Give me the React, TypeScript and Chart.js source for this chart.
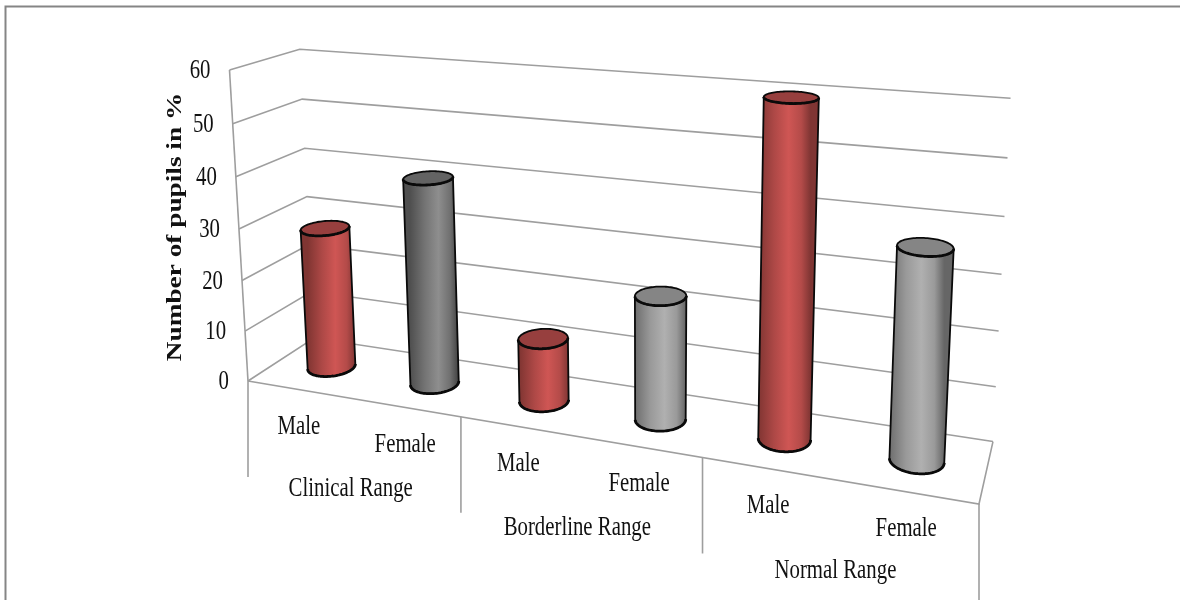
import React, { useEffect, useRef } from "react";
import { Chart, BarController, BarElement, CategoryScale, LinearScale } from "chart.js";

// Share of pupils (%) per screening range, split by gender.
const rangeLabels = ["Clinical Range", "Borderline Range", "Normal Range"];
const seriesNames = ["Male", "Female"];
const maleValues = [28, 12, 60];
const femaleValues = [40, 23, 37];
const axisTitle = "Number of pupils in %";

const W = 1180;
const H = 600;
const FONT = '"Liberation Serif", "Times New Roman", serif';
const TEXT_STRETCH = 1.3;
const GRID = "#9e9e9e";

// Shading ramps for the cylinders: side gradient stops and cap colour.
type Ramp = { stops: string[]; cap: string };
const RED: Ramp = { stops: ["#803532", "#ad4846", "#cf5654", "#b44b49", "#7f3533"], cap: "#973f3e" };
const DARK: Ramp = { stops: ["#505050", "#747474", "#8e8e8e", "#707070", "#404040"], cap: "#636363" };
const LIGHT: Ramp = { stops: ["#6e6e6e", "#999999", "#b0b0b0", "#9a9a9a", "#666666"], cap: "#858585" };
const ramps = [
  [RED, RED, RED],
  [DARK, LIGHT, LIGHT],
];

// Perspective box of the plot: u runs along the categories, d into the depth, v up the value axis.
const O = { x: 248, y: 381 };
const PU = { x: 979, y: 504 };
const PD = { x: 314, y: 338 };
const PV = { x: 229.5, y: 70 };
const WU = -0.178;
const WD = 0.0803;
const WV = -0.044;

function project(u: number, d: number, v: number) {
  const w = 1 + WU * u + WD * d + WV * v;
  const f = (k: "x" | "y") =>
    (O[k] +
      u * ((1 + WU) * PU[k] - O[k]) +
      d * ((1 + WD) * PD[k] - O[k]) +
      v * ((1 + WV) * PV[k] - O[k])) /
    w;
  return { x: f("x"), y: f("y") };
}

const RADIUS_U = 0.033;
const RADIUS_D = 0.21;
const DEPTH_MID = 0.5;

function ringPoints(u: number, v: number) {
  const pts: { x: number; y: number }[] = [];
  for (let i = 0; i < 96; i++) {
    const t = (i / 96) * Math.PI * 2;
    pts.push(project(u + RADIUS_U * Math.cos(t), DEPTH_MID + RADIUS_D * Math.sin(t), v));
  }
  return pts;
}

function tracePoly(ctx: CanvasRenderingContext2D, pts: { x: number; y: number }[], close = false) {
  ctx.beginPath();
  pts.forEach((p, i) => (i ? ctx.lineTo(p.x, p.y) : ctx.moveTo(p.x, p.y)));
  if (close) ctx.closePath();
}

function lowerArc(ring: { x: number; y: number }[]) {
  let l = 0;
  let r = 0;
  ring.forEach((p, i) => {
    if (p.x < ring[l].x) l = i;
    if (p.x > ring[r].x) r = i;
  });
  const walk = (a: number, b: number) => {
    const out = [ring[a]];
    for (let i = a; i !== b; i = (i + 1) % ring.length) out.push(ring[(i + 1) % ring.length]);
    return out;
  };
  const a1 = walk(r, l);
  const a2 = walk(l, r).reverse();
  const mean = (a: { y: number }[]) => a.reduce((s, p) => s + p.y, 0) / a.length;
  return { arc: mean(a1) > mean(a2) ? a1 : a2, left: ring[l], right: ring[r] };
}

// Bar controller that renders each bar element as a cylinder standing in the perspective box.
class CylinderController extends BarController {
  static id = "cylinder3d";
  static defaults = BarController.defaults;
  static overrides = BarController.overrides;

  draw() {
    const chart = this.chart;
    const ctx = chart.ctx;
    const xs = chart.scales.x;
    const ys = chart.scales.y;
    const dsIndex = this.index;
    this.getMeta().data.forEach((bar: any, i: number) => {
      const { x, y } = bar.getProps(["x", "y"], true);
      const u = (x - xs.left) / xs.width;
      const v = (ys.bottom - y) / ys.height;
      const ramp = ramps[dsIndex][i];
      const base = lowerArc(ringPoints(u, 0));
      const topRing = ringPoints(u, v);
      const top = lowerArc(topRing);

      const grad = ctx.createLinearGradient(base.left.x, 0, base.right.x, 0);
      [0, 0.3, 0.58, 0.82, 1].forEach((s, k) => grad.addColorStop(s, ramp.stops[k]));

      ctx.save();
      ctx.lineJoin = "round";
      tracePoly(ctx, [top.left, top.right, ...base.arc], true);
      ctx.fillStyle = grad;
      ctx.fill();
      ctx.strokeStyle = "#0a0a0a";
      ctx.lineWidth = 1.8;
      ctx.stroke();
      tracePoly(ctx, base.arc);
      ctx.lineWidth = 2.8;
      ctx.stroke();
      tracePoly(ctx, topRing, true);
      ctx.fillStyle = ramp.cap;
      ctx.fill();
      ctx.lineWidth = 1.8;
      ctx.stroke();
      tracePoly(ctx, top.arc);
      ctx.lineWidth = 2.8;
      ctx.stroke();
      ctx.restore();
    });
  }
}

function stretchedText(
  ctx: CanvasRenderingContext2D,
  text: string,
  x: number,
  y: number,
  align: CanvasTextAlign,
  font: string,
  rotate = false,
) {
  ctx.save();
  ctx.translate(x, y);
  ctx.scale(1, TEXT_STRETCH);
  if (rotate) ctx.rotate(-Math.PI / 2);
  ctx.font = font;
  ctx.textAlign = align;
  ctx.textBaseline = "middle";
  ctx.fillStyle = "#111111";
  ctx.fillText(text, 0, 0);
  ctx.restore();
}

function line(ctx: CanvasRenderingContext2D, pts: { x: number; y: number }[], color = GRID, width = 1.6) {
  tracePoly(ctx, pts);
  ctx.strokeStyle = color;
  ctx.lineWidth = width;
  ctx.stroke();
}

// Frame, walls, floor and every axis text of the perspective box.
const boxPlugin = {
  id: "perspectiveBox",
  beforeDatasetsDraw(chart: any) {
    const { ctx, scales } = chart;
    const ys = scales.y;
    ctx.save();
    line(ctx, [{ x: 5.5, y: H }, { x: 5.5, y: 6.5 }, { x: W, y: 6.5 }], "#858585", 2);
    ys.ticks.forEach((t: any) => {
      const v = (t.value - ys.min) / (ys.max - ys.min);
      line(ctx, [project(0, 0, v), project(0, 1, v), project(1, 1, v)]);
    });
    line(ctx, [project(0, 0, 0), project(0, 0, 1)]);
    line(ctx, [project(1, 1, 0), project(1, 0, 0), project(0, 0, 0)]);
    for (let i = 0; i <= rangeLabels.length; i++) {
      const p = project(i / rangeLabels.length, 0, 0);
      line(ctx, [p, { x: p.x, y: p.y + 96 }]);
    }
    ctx.restore();
  },
  afterDatasetsDraw(chart: any) {
    const { ctx, scales } = chart;
    const ys = scales.y;
    const serif = `20.8px ${FONT}`;
    ys.ticks.forEach((t: any) => {
      const p = project(0, 0, (t.value - ys.min) / (ys.max - ys.min));
      stretchedText(ctx, String(t.value), p.x - 19, p.y + 1, "right", serif);
    });
    const n = rangeLabels.length;
    rangeLabels.forEach((name, i) => {
      seriesNames.forEach((s, j) => {
        const p = project((i + (j + 0.5) / seriesNames.length) / n, 0, 0);
        stretchedText(ctx, s, p.x, p.y + 37, "center", serif);
      });
      const g = project((i + 0.5) / n, 0, 0);
      stretchedText(ctx, name, g.x - 0.5, g.y + 91, "center", serif);
    });
    stretchedText(ctx, axisTitle, 176, 227, "center", `bold 21px ${FONT}`, true);
  },
};

Chart.register(CylinderController, BarElement, CategoryScale, LinearScale);

export default function App() {
  const ref = useRef<HTMLCanvasElement>(null);

  useEffect(() => {
    const chart = new Chart(ref.current!, {
      type: "cylinder3d" as any,
      data: {
        labels: rangeLabels,
        datasets: [
          { label: seriesNames[0], data: maleValues },
          { label: seriesNames[1], data: femaleValues },
        ],
      },
      options: {
        animation: false,
        responsive: false,
        devicePixelRatio: 1,
        layout: { padding: 0 },
        datasets: { cylinder3d: { categoryPercentage: 1, barPercentage: 1 } },
        plugins: { legend: { display: false }, tooltip: { enabled: false } },
        scales: {
          x: { type: "category", display: false, offset: true },
          y: { type: "linear", display: false, min: 0, max: 60, ticks: { stepSize: 10 } },
        },
      } as any,
      plugins: [boxPlugin],
    });
    return () => chart.destroy();
  }, []);

  return (
    <div style={{ position: "fixed", left: 0, top: 0, width: W, height: H, background: "#fff" }}>
      <canvas ref={ref} width={W} height={H} style={{ display: "block" }} />
    </div>
  );
}
